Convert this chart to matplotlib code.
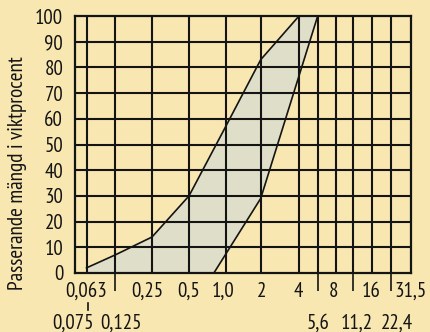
import numpy as np
import matplotlib
matplotlib.use('Agg')
import matplotlib.pyplot as plt
from matplotlib import font_manager
from matplotlib.transforms import blended_transform_factory, offset_copy

# ---------------- data ----------------
upper_sizes = [0.063, 0.125, 0.25, 0.5, 1.0, 2.0, 4.0]
upper_pass = [2, 7, 14, 30, 57, 83, 100]
lower_sizes = [0.8, 2.0, 5.6]
lower_pass = [0, 29, 100]

y_ticks = list(range(0, 101, 10))
grid_sizes = [0.063, 0.125, 0.25, 0.5, 1.0, 2.0, 4.0, 5.6, 8.0, 11.2, 16.0, 22.4]
top_row_sizes = [0.063, 0.25, 0.5, 1.0, 2.0, 4.0, 8.0, 16.0, 31.5]
top_row_labels = ['0,063', '0,25', '0,5', '1,0', '2', '4', '8', '16', '31,5']
bottom_row_sizes = [0.075, 0.125, 5.6, 11.2, 22.4]
bottom_row_labels = ['0,075', '0,125', '5,6', '11,2', '22,4']
long_tick_sizes = [0.125, 5.6, 11.2, 22.4]
ylabel_text = 'Passerande mängd i viktprocent'

# ---------------- layout / style ----------------
top_row_dx = [0, -4.5, 0, -3, 1, -1, -2, -1, 0]
bottom_row_dx = [-15, 6, 0, 4, 6]

# schematic sieve axis (piecewise logarithmic, as drawn in the original)
scale_vals = [0.05, 0.063, 0.075, 0.125, 0.25, 0.5, 1.0, 2.0, 4.0, 5.6, 8.0, 11.2, 16.0, 22.4, 31.5]
scale_pos = [75, 86.5, 88, 115, 152, 189, 225.7, 260.7, 299, 317.7, 335.7, 353, 372, 390.7, 411]
log_vals = np.log10(scale_vals)

def fwd(x):
    x = np.asarray(x, dtype=float)
    return np.interp(np.log10(np.clip(x, 1e-6, None)), log_vals, scale_pos)

def inv(p):
    p = np.asarray(p, dtype=float)
    return 10 ** np.interp(p, scale_pos, log_vals)

avail = {f.name for f in font_manager.fontManager.ttflist}
prefs = ['PT Sans Narrow', 'Fira Sans Condensed', 'Roboto Condensed', 'Open Sans Condensed',
         'Archivo Narrow', 'Encode Sans Condensed', 'Asap Condensed', 'Liberation Sans Narrow']
fam = next((p for p in prefs if p in avail), 'DejaVu Sans')
plt.rcParams['font.family'] = [fam, 'DejaVu Sans']

BG = '#F8E7B1'
FILL = '#DFDEC8'
INK = '#141414'
FS = 15
FS_Y = 15.3

W, H = 430, 332
fig = plt.figure(figsize=(W / 100, H / 100), dpi=100, facecolor=BG)
ax = fig.add_axes([75 / W, (H - 273) / H, (411 - 75) / W, (273 - 16) / H])
ax.set_facecolor(BG)
ax.set_xscale('function', functions=(fwd, inv))
ax.set_xlim(0.05, 31.5)
ax.set_ylim(0, 100)

# band
poly_x = upper_sizes + lower_sizes[::-1] + [upper_sizes[0]]
poly_y = upper_pass + lower_pass[::-1] + [0]
ax.fill(poly_x, poly_y, color=FILL, zorder=1, lw=0)

# grid
for v in grid_sizes:
    ax.axvline(v, color=INK, lw=1.5, zorder=2)
for v in y_ticks[1:-1]:
    ax.axhline(v, color=INK, lw=1.5, zorder=2)

ax.plot(upper_sizes, upper_pass, color=INK, lw=1.2, zorder=3)
ax.plot(lower_sizes, lower_pass, color=INK, lw=1.2, zorder=3)

for s in ax.spines.values():
    s.set_color(INK)
    s.set_linewidth(1.6)
    s.set_zorder(4)

ax.set_yticks(y_ticks)
ax.set_yticklabels([str(v) for v in y_ticks], fontsize=FS, color=INK)
ax.tick_params(axis='y', length=0, pad=8.5)

ax.set_xticks(long_tick_sizes)
ax.set_xticklabels([''] * len(long_tick_sizes))
ax.xaxis.set_minor_locator(matplotlib.ticker.NullLocator())
ax.tick_params(axis='x', length=13, width=1.2, color=INK, direction='out')

trans = blended_transform_factory(ax.transData, ax.transAxes)
for v, t, dx in zip(top_row_sizes, top_row_labels, top_row_dx):
    ax.text(v, (273 - 291.5) / 257, t, transform=offset_copy(trans, fig, x=dx, y=0, units='dots'),
            ha='center', va='center', fontsize=FS, color=INK)
for v, t, dx in zip(bottom_row_sizes, bottom_row_labels, bottom_row_dx):
    ax.text(v, (273 - 323.5) / 257, t, transform=offset_copy(trans, fig, x=dx, y=0, units='dots'),
            ha='center', va='center', fontsize=FS, color=INK)
ax.plot([bottom_row_sizes[0]] * 2, [(273 - 303) / 257, (273 - 310) / 257], transform=trans,
        color=INK, lw=1.2, clip_on=False)

fig.text(18 / W, (H - 173) / H, ylabel_text, rotation=90, ha='center', va='center',
         fontsize=FS_Y, color=INK)

fig.savefig('out.png', dpi=100, facecolor=BG)
